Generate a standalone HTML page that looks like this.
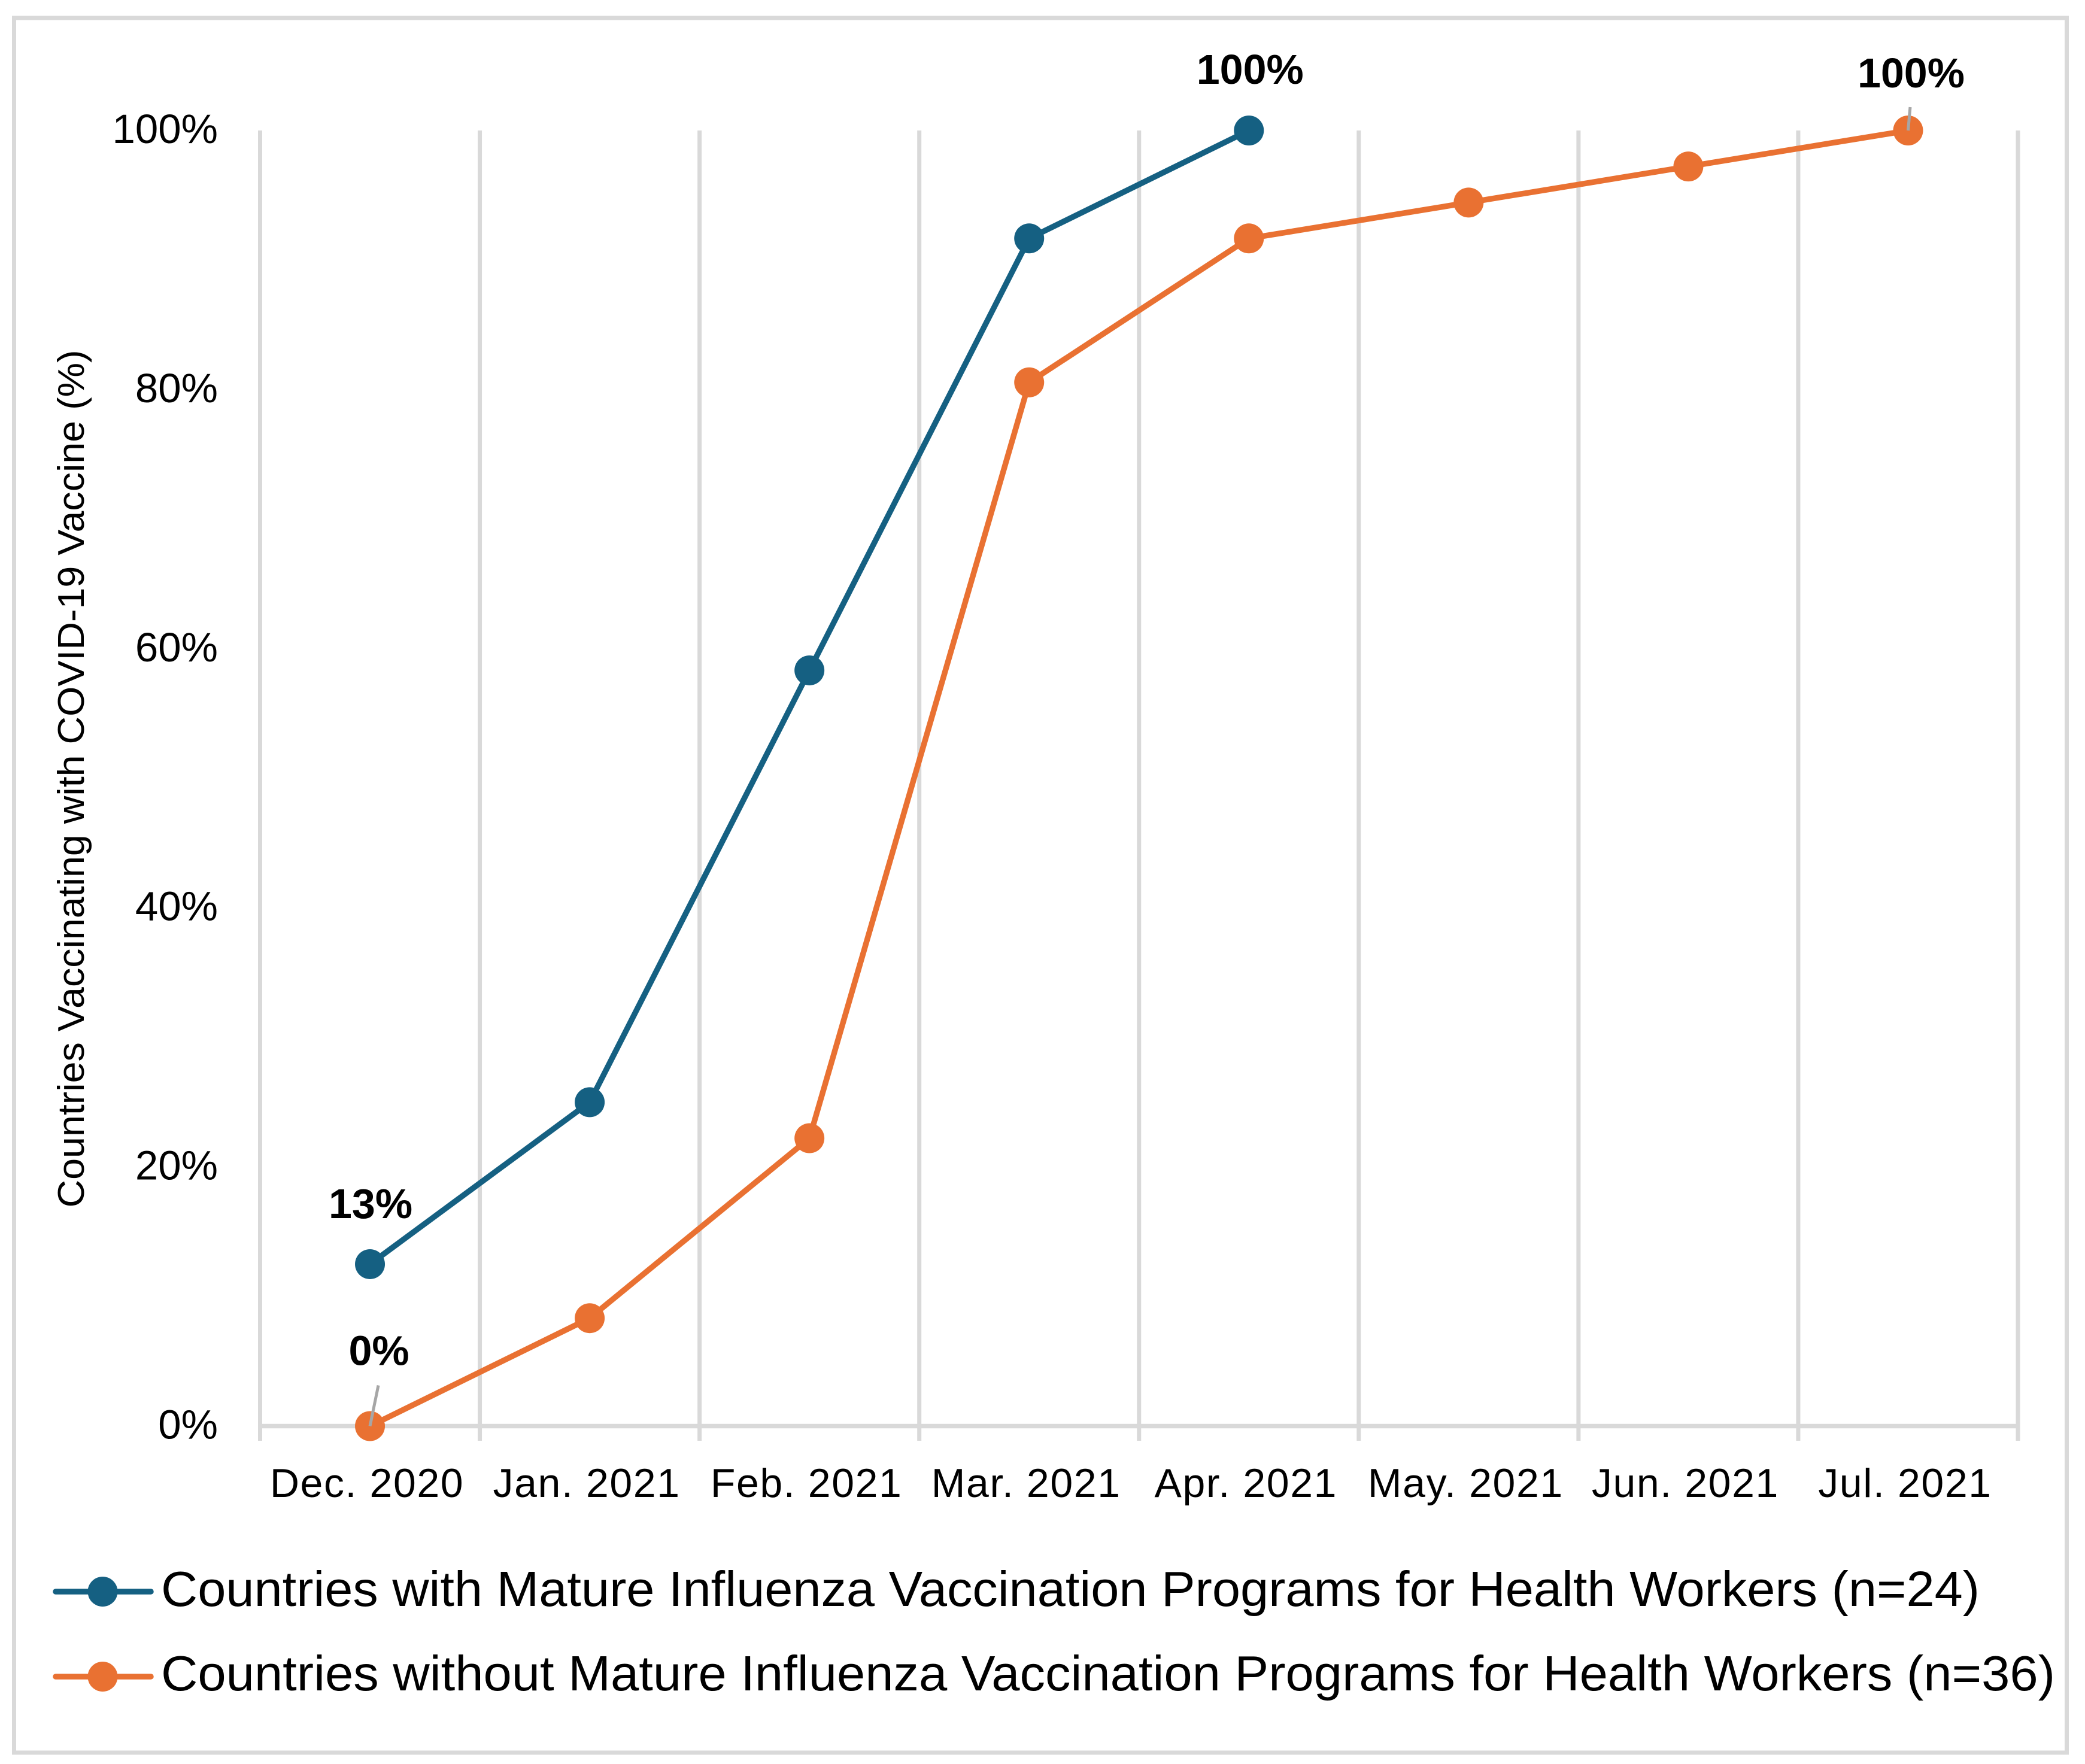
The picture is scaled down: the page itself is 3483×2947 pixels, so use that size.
<!DOCTYPE html>
<html lang="en">
<head>
<meta charset="utf-8">
<title>Countries Vaccinating with COVID-19 Vaccine</title>
<style>
html,body{margin:0;padding:0;background:#fff;}
svg{display:block;}
text{font-family:"Liberation Sans",sans-serif;fill:#000;}
</style>
</head>
<body>
<svg id="chart" xmlns="http://www.w3.org/2000/svg" width="3483" height="2947" viewBox="0 0 3483 2947">
  <rect x="0" y="0" width="3483" height="2947" fill="#ffffff"/>
  <rect x="23.5" y="30" width="3429" height="2898" fill="#ffffff" stroke="#D9D9D9" stroke-width="7"/>
  <g id="grid"></g>
  <g id="yticks"></g>
  <g id="xticks"></g>
  <text transform="translate(140,1301) rotate(-90)" text-anchor="middle" font-size="62" textLength="1433" lengthAdjust="spacingAndGlyphs">Countries Vaccinating with COVID-19 Vaccine (%)</text>
  <g id="leaders"></g>
  <g id="series"></g>
  <g id="labels"></g>
  <g>
    <g>
      <line x1="93" y1="2659" x2="252" y2="2659" stroke="#156082" stroke-width="9.5" stroke-linecap="round"/>
      <circle cx="171.5" cy="2659" r="25" fill="#156082"/>
      <text x="269" y="2683" font-size="83" textLength="3038" lengthAdjust="spacingAndGlyphs">Countries with Mature Influenza Vaccination Programs for Health Workers (n=24)</text>
    </g>
    <g>
      <line x1="93" y1="2801" x2="252" y2="2801" stroke="#E97132" stroke-width="9.5" stroke-linecap="round"/>
      <circle cx="171.5" cy="2801" r="25" fill="#E97132"/>
      <text x="269" y="2824" font-size="83" textLength="3164" lengthAdjust="spacingAndGlyphs">Countries without Mature Influenza Vaccination Programs for Health Workers (n=36)</text>
    </g>
  </g>
</svg>
<script>
const categories = ['Dec. 2020', 'Jan. 2021', 'Feb. 2021', 'Mar. 2021', 'Apr. 2021', 'May. 2021', 'Jun. 2021', 'Jul. 2021'];
const yTickValues = [0, 20, 40, 60, 80, 100];
const matureValues = [12.5, 25, 58.33, 91.67, 100];
const notMatureValues = [0, 8.33, 22.22, 80.56, 91.67, 94.44, 97.22, 100];

const NS = 'http://www.w3.org/2000/svg';
const plotLeft = 434.5, plotRight = 3371, plotTop = 218, plotBottom = 2382.5, tickBottom = 2407;
const band = (plotRight - plotLeft) / categories.length;
function xScale(i) { return plotLeft + band * (i + 0.5); }
function yScale(v) { return plotBottom - (v / 100) * (plotBottom - plotTop); }
function make(tag, attrs, parentId) {
  const el = document.createElementNS(NS, tag);
  for (const k in attrs) el.setAttribute(k, attrs[k]);
  document.getElementById(parentId).appendChild(el);
  return el;
}

// vertical gridlines and horizontal axis
for (let i = 0; i <= categories.length; i++) {
  const gx = plotLeft + band * i;
  const g = make('line', {x1: gx, y1: plotTop, x2: gx, y2: tickBottom, stroke: '#D9D9D9', 'stroke-width': 7}, 'grid');
  
  
}
const axis = make('line', {x1: plotLeft, y1: plotBottom, x2: plotRight, y2: plotBottom, stroke: '#D9D9D9', 'stroke-width': 7.5}, 'grid');



// y tick labels
yTickValues.forEach(function (v) {
  const t = make('text', {x: 364, y: yScale(v) + 21, 'text-anchor': 'end', 'font-size': 69}, 'yticks');
  t.textContent = v + '%';
  
  
});

// x tick labels
categories.forEach(function (c, i) {
  const t = make('text', {x: xScale(i) - 5, y: 2501, 'text-anchor': 'middle', 'font-size': 68, 'letter-spacing': 1.6}, 'xticks');
  t.textContent = c;
  
  
});

// series
function drawSeries(values, color, slug) {
  const pts = values.map(function (v, i) { return xScale(i) + ',' + yScale(v); }).join(' ');
  const line = make('polyline', {points: pts, fill: 'none', stroke: color, 'stroke-width': 9.5, 'stroke-linejoin': 'round'}, 'series');
  
  
  values.forEach(function (v, i) {
    const p = make('circle', {cx: xScale(i), cy: yScale(v), r: 25, fill: color}, 'series');
    
    
  });
}
drawSeries(matureValues, '#156082', 'mature-series');
drawSeries(notMatureValues, '#E97132', 'not-mature-series');

// data labels at the first and last point of each series
function drawLabel(values, i, dx, dy, slug) {
  const t = make('text', {x: xScale(i) + dx, y: yScale(values[i]) + dy, 'text-anchor': 'middle', 'font-size': 70, 'font-weight': 'bold'}, 'labels');
  t.textContent = Math.round(values[i]) + '%';
  
  
}
drawLabel(matureValues, 0, 1, -77, 'mature-first-label');
drawLabel(matureValues, matureValues.length - 1, 2, -78, 'mature-last-label');
drawLabel(notMatureValues, 0, 15, -102, 'not-mature-first-label');
drawLabel(notMatureValues, notMatureValues.length - 1, 5, -72, 'not-mature-last-label');

// leader lines, drawn above the markers
function drawLeader(values, i, dx, dy, slug) {
  const x = xScale(i), y = yScale(values[i]);
  const l = make('line', {x1: x, y1: y, x2: x + dx, y2: y + dy, stroke: '#A6A6A6', 'stroke-width': 5}, 'labels');
  
  
}
drawLeader(notMatureValues, 0, 14, -68, 'not-mature-first-leader');
drawLeader(notMatureValues, notMatureValues.length - 1, 3.5, -39, 'not-mature-last-leader');
</script>
</body>
</html>
